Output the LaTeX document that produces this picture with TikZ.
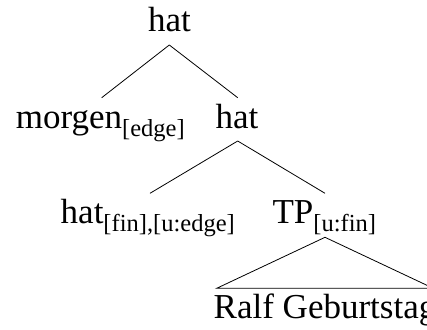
\documentclass[tikz,border=0pt]{standalone}
\usepackage{amsmath}
\usepackage{fontspec}
\setmainfont{Liberation Serif}
\begin{document}
\begin{tikzpicture}[x=1pt,y=-1pt,
  lab/.style={anchor=base,inner sep=0pt,font=\fontsize{35}{40}\selectfont},
  edge/.style={line width=0.8pt}]
\useasboundingbox (0,0) rectangle (427,329);
\node[lab] (root) at (169.5,32) {hat};
\node[lab] (morgen) at (100.5,128) {morgen$_{\text{[edge]}}$};
\node[lab] (hat2) at (237,128) {hat};
\node[lab] (hat3) at (148,223) {hat$_{\text{[fin],[u:edge]}}$};
\node[lab] (tp) at (324.5,223) {TP$_{\text{[u:fin]}}$};
\node[lab] (ralf) at (325,318) {Ralf Geburtstag};
\coordinate (r) at (169.3,45);
\coordinate (m1) at (101.7,97.7);
\coordinate (m2) at (237.7,97.7);
\coordinate (h2) at (237.7,141);
\coordinate (m3) at (150,193.3);
\coordinate (m4) at (325,193.3);
\coordinate (tpb) at (325,237.3);
\coordinate (tl) at (216.7,288.3);
\coordinate (tr) at (433.3,288.3);
\draw[edge] (r) -- (m1);
\draw[edge] (r) -- (m2);
\draw[edge] (h2) -- (m3);
\draw[edge] (h2) -- (m4);
\draw[edge] (tpb) -- (tl) -- (tr) -- cycle;
\end{tikzpicture}
\end{document}
